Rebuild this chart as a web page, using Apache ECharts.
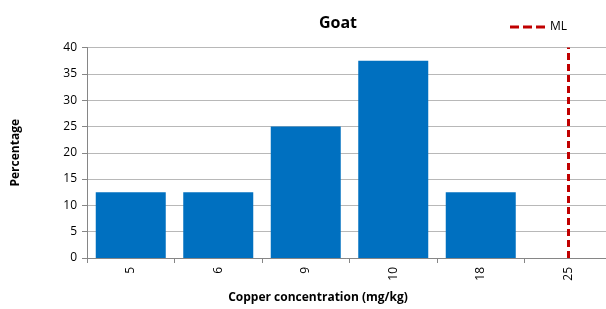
<!DOCTYPE html>
<html>
<head>
    <meta charset="utf-8">
    <title>Goat</title>
    <script src="https://cdn.jsdelivr.net/npm/echarts@6.0.0/dist/echarts.min.js"></script>
    <style>
        html, body { margin: 0; padding: 0; background: #fff; }
        #main { width: 606px; height: 309px; }
    </style>
</head>
<body>
    <div id="main"></div>
    <script>
        var categories = ['5', '6', '9', '10', '18', '25'];
        var percentages = [12.5, 12.5, 25, 37.5, 12.5, 0];
        var mlValue = '25';

        var font = '"Open Sans", "Noto Sans", sans-serif';
        var myChart = echarts.init(document.getElementById('main'));

        // three short dashes for the ML legend key
        var dashIcon = 'path://M0,0h9v3h-9z M13,0h9v3h-9z M26,0h9v3h-9z';

        var option = {
            animation: false,
            title: [{
                text: 'Goat',
                left: 333,
                top: 10,
                textAlign: 'center',
                textStyle: { fontFamily: font, fontSize: 16, fontWeight: 'bold', color: '#000' }
            }, {
                text: 'Copper concentration (mg/kg)',
                left: 313,
                top: 287,
                textAlign: 'center',
                textStyle: { fontFamily: font, fontSize: 12, fontWeight: 'bold', color: '#000' }
            }],
            legend: {
                data: [{ name: 'ML', icon: dashIcon }],
                left: 505,
                top: 16,
                itemWidth: 35,
                itemHeight: 3,
                itemGap: 7,
                textStyle: { fontFamily: font, fontSize: 12, color: '#000' }
            },
            grid: {
                left: 87,
                right: -6,
                top: 47.5,
                bottom: 51,
                containLabel: false,
                outerBoundsMode: 'none'
            },
            xAxis: {
                type: 'category',
                data: categories,
                axisLine: { lineStyle: { color: '#868686', width: 1 } },
                axisTick: { show: true, length: 5, lineStyle: { color: '#868686' } },
                axisLabel: {
                    rotate: 90,
                    margin: 9,
                    fontFamily: font,
                    fontSize: 12,
                    color: '#000'
                }
            },
            yAxis: {
                type: 'value',
                min: 0,
                max: 40,
                interval: 5,
                name: 'Percentage',
                nameLocation: 'middle',
                nameGap: 65,
                nameTextStyle: { fontFamily: font, fontSize: 12, fontWeight: 'bold', color: '#000' },
                axisLine: { show: true, lineStyle: { color: '#868686', width: 1 } },
                axisTick: { show: true, length: 5, lineStyle: { color: '#868686' } },
                axisLabel: { fontFamily: font, fontSize: 12, color: '#000', margin: 10 },
                splitLine: { lineStyle: { color: '#b8b8b8', width: 1 } }
            },
            series: [{
                name: 'Percentage',
                type: 'bar',
                data: percentages,
                barCategoryGap: '20%',
                itemStyle: { color: '#0070c0' }
            }, {
                name: 'ML',
                type: 'line',
                data: [],
                symbol: 'none',
                itemStyle: { color: '#c00000' },
                lineStyle: { color: '#c00000', width: 3, type: [7, 4] },
                markLine: {
                    silent: true,
                    symbol: ['none', 'none'],
                    label: { show: false },
                    lineStyle: { color: '#c00000', width: 3, type: [7, 4] },
                    data: [{ xAxis: mlValue }]
                }
            }]
        };

        myChart.setOption(option);
    </script>
</body>
</html>
